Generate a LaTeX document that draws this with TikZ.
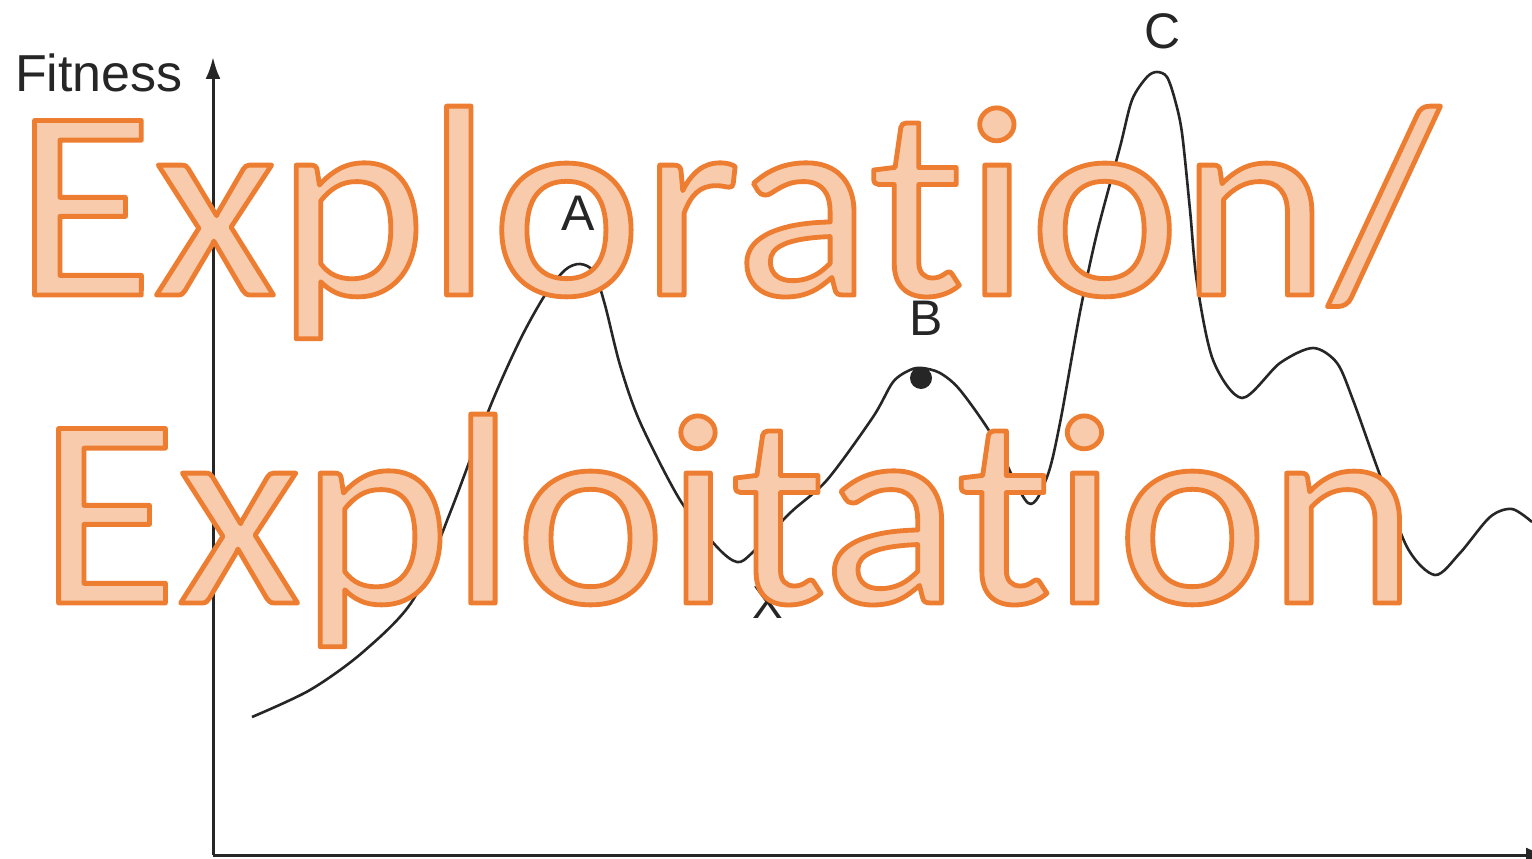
\documentclass[tikz,border=0pt]{standalone}
\usepackage{fontspec}
\setmainfont{Liberation Sans}
\newfontfamily\bigfont[Ligatures={NoCommon},FakeStretch=1.047]{Carlito}
\usetikzlibrary{arrows.meta}
\definecolor{orangeline}{HTML}{ED7D31}
\definecolor{orangefill}{HTML}{F8CBAD}
\definecolor{ink}{HTML}{262626}
\tikzset{
  axis/.style={draw=ink, line width=3pt},
  landscape/.style={draw=ink, line width=2.6pt},
  peaklabel/.style={anchor=base, inner sep=0pt, text=ink, font=\fontsize{50}{56}\selectfont},
  bigtext/.style={anchor=base, inner sep=0pt, font=\bigfont\fontsize{272}{300}\selectfont}
}
\newcommand{\orangetext}[1]{\special{pdf:literal direct 2 Tr 4.8 w 1 j 0.929 0.490 0.192 RG 0.973 0.796 0.678 rg}#1\special{pdf:literal direct 0 Tr}}
\begin{document}
\begin{tikzpicture}[x=1pt,y=-1pt]
\useasboundingbox (0,0) rectangle (1532,859);
\fill[white] (0,0) rectangle (1532,859);
% axes
\coordinate (origin) at (213,855);
\coordinate (ytop) at (213,57);
\coordinate (xend) at (1548,855);
\draw[axis, -{Latex[length=22pt,width=15pt]}] (origin) -- (ytop);
\draw[axis, -{Latex[length=22pt,width=15pt]}] (origin) -- (xend);
\node[anchor=base west, inner sep=0pt, text=ink, font=\fontsize{52}{58}\selectfont] (fitness) at (15,92) {Fitness};
% fitness curve
\draw[landscape] plot[smooth, tension=0.5] coordinates {
(252,717) (310,690) (363,652) (413,600) (450,513) (490,407) (520,340) (545,295) (565,270) (580,264) (594,272) (605,305) (620,365) (640,422) (680,500) (717,547) (737,562) (752,553) (790,513) (827,480) (873,417) (893,382) (910,370) (922,368) (940,373) (960,390) (993,437) (1028,503) (1047,477) (1060,423) (1080,312) (1097,233) (1120,147) (1132,100) (1147,77) (1157,72) (1167,77) (1175,100) (1182,133) (1190,210) (1197,283) (1213,360) (1242,398) (1280,363) (1313,348) (1337,363) (1353,400) (1377,467) (1407,547) (1435,575) (1460,553) (1490,517) (1512,509) (1532,522)};
\fill[ink] (921,378) circle (11pt);
\node[peaklabel] (A) at (578,230) {A};
\node[peaklabel] (B) at (926,335) {B};
\node[peaklabel] (C) at (1163,49) {C};
\node[peaklabel, font=\fontsize{46}{52}\selectfont] (X) at (768,618) {X};
% overlay title
\node[bigtext] (line1) at (727,295) {\orangetext{Exploration/}};
\node[bigtext] (line2) at (728,603) {\orangetext{Exploitation}};
\end{tikzpicture}
\end{document}
